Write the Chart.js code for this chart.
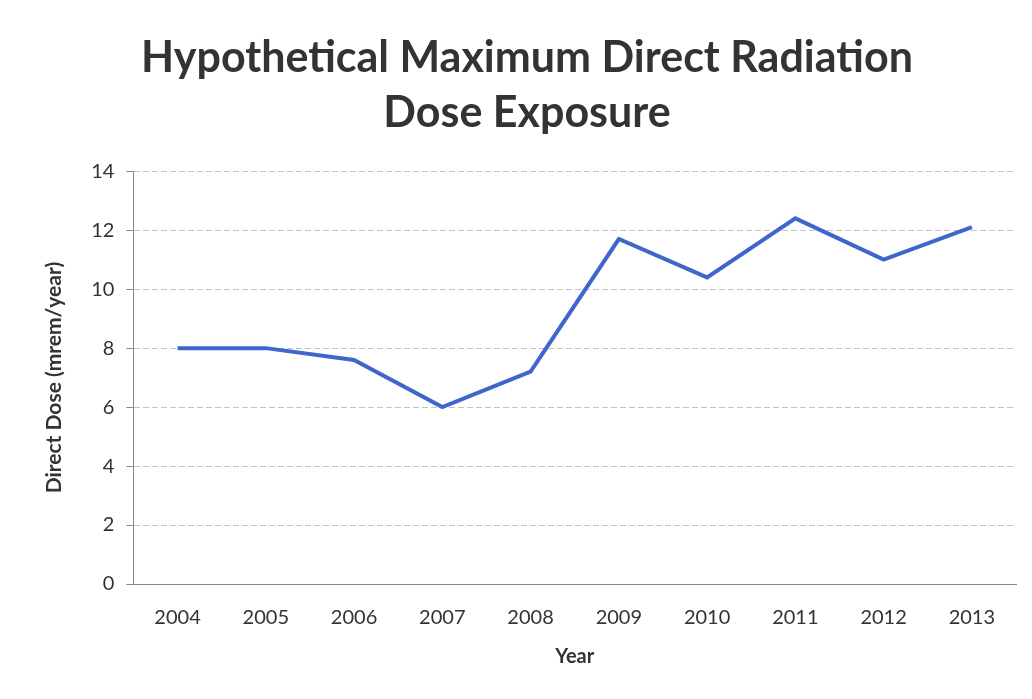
<!DOCTYPE html>
<html>
<head>
<meta charset="utf-8">
<script src="https://cdn.jsdelivr.net/npm/chart.js@4/dist/chart.umd.min.js"></script>
<style>
  html, body { margin: 0; padding: 0; background: #fff; }
  #wrap { width: 1032px; height: 699px; position: relative; }
</style>
</head>
<body>
<div id="wrap"><canvas id="doseChart"></canvas></div>
<script>
// Datos del gráfico
const years = ['2004', '2005', '2006', '2007', '2008', '2009', '2010', '2011', '2012', '2013'];
const directDose = [8.0, 8.0, 7.6, 6.0, 7.2, 11.7, 10.4, 12.4, 11.0, 12.1];
const titleLines = ['Hypothetical Maximum Direct Radiation', 'Dose Exposure'];
const yMin = 0, yMax = 14, yStep = 2;

const textColor = '#333333';
const fontFamily = 'Lato, "Open Sans", sans-serif';

const ctx = document.getElementById('doseChart').getContext('2d');
const doseChart = new Chart(ctx, {
    type: 'line',
    data: {
        labels: years,
        datasets: [{
            label: 'Direct Dose',
            data: directDose,
            borderColor: '#3f66cc',
            borderWidth: 4,
            pointRadius: 0,
            tension: 0,
            fill: false
        }]
    },
    options: {
        responsive: true,
        maintainAspectRatio: false,
        animation: false,
        layout: { padding: { top: 31, right: 16, bottom: 26, left: 38 } },
        plugins: {
            legend: { display: false },
            tooltip: { enabled: false },
            title: {
                display: true,
                text: titleLines,
                color: textColor,
                font: { family: fontFamily, size: 43, weight: 'bold', lineHeight: 1.27 },
                padding: { top: 0, bottom: 31 }
            }
        },
        scales: {
            x: {
                offset: true,
                grid: { display: false },
                border: { display: true, color: '#8a8a8a', width: 1 },
                ticks: { color: textColor, font: { family: fontFamily, size: 20 }, padding: 14 },
                title: {
                    display: true,
                    text: 'Year',
                    color: textColor,
                    font: { family: fontFamily, size: 20, weight: 'bold' },
                    padding: { top: 1 }
                }
            },
            y: {
                min: yMin,
                max: yMax,
                ticks: { stepSize: yStep, color: textColor, font: { family: fontFamily, size: 20 }, padding: 12 },
                grid: {
                    color: '#c4c4c4',
                    tickLength: 7,
                    tickColor: '#8a8a8a',
                    drawTicks: true
                },
                border: { display: true, color: '#8a8a8a', dash: [6, 3] },
                title: {
                    display: true,
                    text: 'Direct Dose (mrem/year)',
                    color: textColor,
                    font: { family: fontFamily, size: 21, weight: 'bold' },
                    padding: { bottom: 12 }
                }
            }
        }
    }
});
</script>
</body>
</html>
